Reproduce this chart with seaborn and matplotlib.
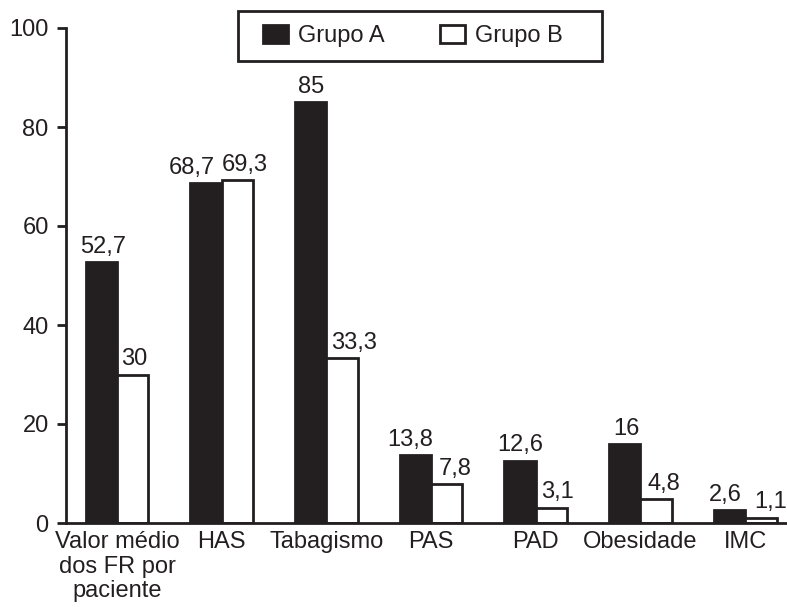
import matplotlib
matplotlib.use('Agg')
import matplotlib.pyplot as plt
from matplotlib.patches import Patch, Rectangle
import seaborn as sns
import pandas as pd

categorias = ['Valor médio\ndos FR por\npaciente', 'HAS', 'Tabagismo', 'PAS', 'PAD', 'Obesidade', 'IMC']
grupo_a = [52.7, 68.7, 85, 13.8, 12.6, 16, 2.6]
grupo_b = [30, 69.3, 33.3, 7.8, 3.1, 4.8, 1.1]
grupos = ['Grupo A', 'Grupo B']
yticks = [0, 20, 40, 60, 80, 100]

# horizontal nudges of the value labels (pixels), as in the original
shift_a = [2, -14, 0, -5, 0, 2, -4]
shift_b = [2, 7, 12, 8, 6, 8, 10]

df = pd.DataFrame({
    'Categoria': categorias * 2,
    'Valor': grupo_a + grupo_b,
    'Grupo': ['Grupo A'] * len(categorias) + ['Grupo B'] * len(categorias),
})

sns.set_style('white')
plt.rcParams['font.family'] = ['Liberation Sans', 'DejaVu Sans']
dark = '#231f20'
fs = 17

fig = plt.figure(figsize=(7.87, 6.08), dpi=100)
ax = fig.add_axes([66 / 787, 85 / 608, 721 / 787, 495 / 608])

sns.barplot(data=df, x='Categoria', y='Valor', hue='Grupo', hue_order=grupos,
            palette={'Grupo A': dark, 'Grupo B': 'white'}, width=0.6,
            edgecolor=dark, linewidth=2, saturation=1, legend=False, ax=ax)

# value labels with comma decimals
for cont, shifts in zip(ax.containers, [shift_a, shift_b]):
    for bar, dx in zip(cont, shifts):
        h = bar.get_height()
        txt = ('%g' % h).replace('.', ',')
        ax.annotate(txt, (bar.get_x() + bar.get_width() / 2, h),
                    xytext=(dx * 0.72, 3), textcoords='offset points',
                    ha='center', va='bottom', fontsize=fs, color=dark)

ax.set_xlim(-0.487, 6.40)
ax.set_ylim(0, 100)
ax.set_yticks(yticks)
ax.set_xlabel('')
ax.set_ylabel('')
ax.tick_params(axis='y', length=6.5, width=2, color=dark, labelsize=fs, labelcolor=dark,
               direction='out', left=True, pad=6)
ax.tick_params(axis='x', length=0, labelsize=fs, labelcolor=dark, pad=6)
for lab in ax.get_xticklabels():
    lab.set_linespacing(1.15)
for s in ['top', 'right']:
    ax.spines[s].set_visible(False)
for s in ['left', 'bottom']:
    ax.spines[s].set_linewidth(2)
    ax.spines[s].set_color(dark)

# legend box
fig.add_artist(Rectangle((238 / 787, 1 - 61 / 608), 364 / 787, 50 / 608,
                         transform=fig.transFigure, facecolor='white',
                         edgecolor=dark, linewidth=2))
handles = [Patch(facecolor=dark, edgecolor=dark, linewidth=2),
           Patch(facecolor='white', edgecolor=dark, linewidth=2)]
em = fs * 100 / 72
leg = fig.legend(handles, grupos, loc='center left', bbox_to_anchor=(263 / 787, 1 - 36 / 608),
                 ncol=2, fontsize=fs, frameon=False, handlelength=25 / em,
                 handleheight=19 / em, columnspacing=55 / em, borderpad=0,
                 borderaxespad=0, handletextpad=10 / em)
for t in leg.get_texts():
    t.set_color(dark)

fig.savefig('out.png', dpi=100)
